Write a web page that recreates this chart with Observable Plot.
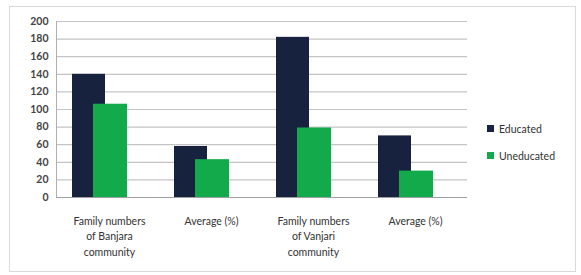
<!DOCTYPE html>
<html><head><meta charset="utf-8">
<script src="https://cdn.jsdelivr.net/npm/d3@7"></script>
<script src="https://cdn.jsdelivr.net/npm/@observablehq/plot@0.6"></script>
<style>
body{margin:0;background:#fff;}
#wrap{position:relative;width:581px;height:275px;font-family:Lato,"Open Sans",sans-serif;}
#frame{position:absolute;left:9px;top:6px;width:567px;height:266px;border:1px solid #d9d9d9;box-sizing:border-box;}
#legend{position:absolute;left:487px;top:115px;font-size:10.5px;color:#333;}
#legend div{display:flex;align-items:center;height:27px;line-height:14px;}
#legend span.sw{display:inline-block;width:7px;height:7px;margin-right:5px;}
</style></head>
<body><div id="wrap"><div id="frame"></div><div id="chart"></div>
<div id="legend"></div></div>
<script>
const categories = ["Family numbers\nof Banjara\ncommunity", "Average (%)", "Family numbers\nof Vanjari\ncommunity", "Average (%)"];
const keys = ["b", "a1", "v", "a2"];
const educated = [140, 58, 182, 70];
const uneducated = [106, 43, 79, 30];
const series = ["Educated", "Uneducated"];
const colors = ["#16223e", "#13aa4b"];
const yTicks = [0,20,40,60,80,100,120,140,160,180,200];

const rowsE = keys.map((k,i)=>({k, v: educated[i]}));
const rowsU = keys.map((k,i)=>({k, v: uneducated[i]}));
const labelOf = Object.fromEntries(keys.map((k,i)=>[k, categories[i]]));

const chart = Plot.plot({
  width: 581, height: 275,
  marginLeft: 56, marginRight: 114, marginTop: 21, marginBottom: 78,
  style: {fontFamily: "Lato, 'Open Sans', sans-serif", fontSize: "10.5px", color: "#333", background: "transparent"},
  x: {domain: keys, padding: 0, label: null},
  y: {domain: [0, 200], label: null},
  marks: [
    Plot.gridY(yTicks, {stroke: "#c4c4c4", strokeOpacity: 1, strokeWidth: 1.2}),
    Plot.barY(rowsE, {x: "k", y: "v", fill: colors[0], insetLeft: 14, insetRight: 55}),
    Plot.barY(rowsU, {x: "k", y: "v", fill: colors[1], insetLeft: 35, insetRight: 33}),
    Plot.axisY({ticks: yTicks, tickSize: 0, tickPadding: 8, fontWeight: "bold", fill: "#444"}),
    Plot.axisX({tickSize: 0, tickPadding: 16, tickFormat: d => labelOf[d], lineHeight: 1.5, fill: "#333"}),
    Plot.frame({anchor: "left", stroke: "#b0b0b0"}),
    Plot.ruleY([0], {stroke: "#a0a0a0"})
  ]
});
document.getElementById("chart").appendChild(chart);

const lg = document.getElementById("legend");
series.forEach((s,i)=>{
  const d = document.createElement("div");
  d.innerHTML = `<span class="sw" style="background:${colors[i]}"></span>${s}`;
  lg.appendChild(d);
});
</script></body></html>
